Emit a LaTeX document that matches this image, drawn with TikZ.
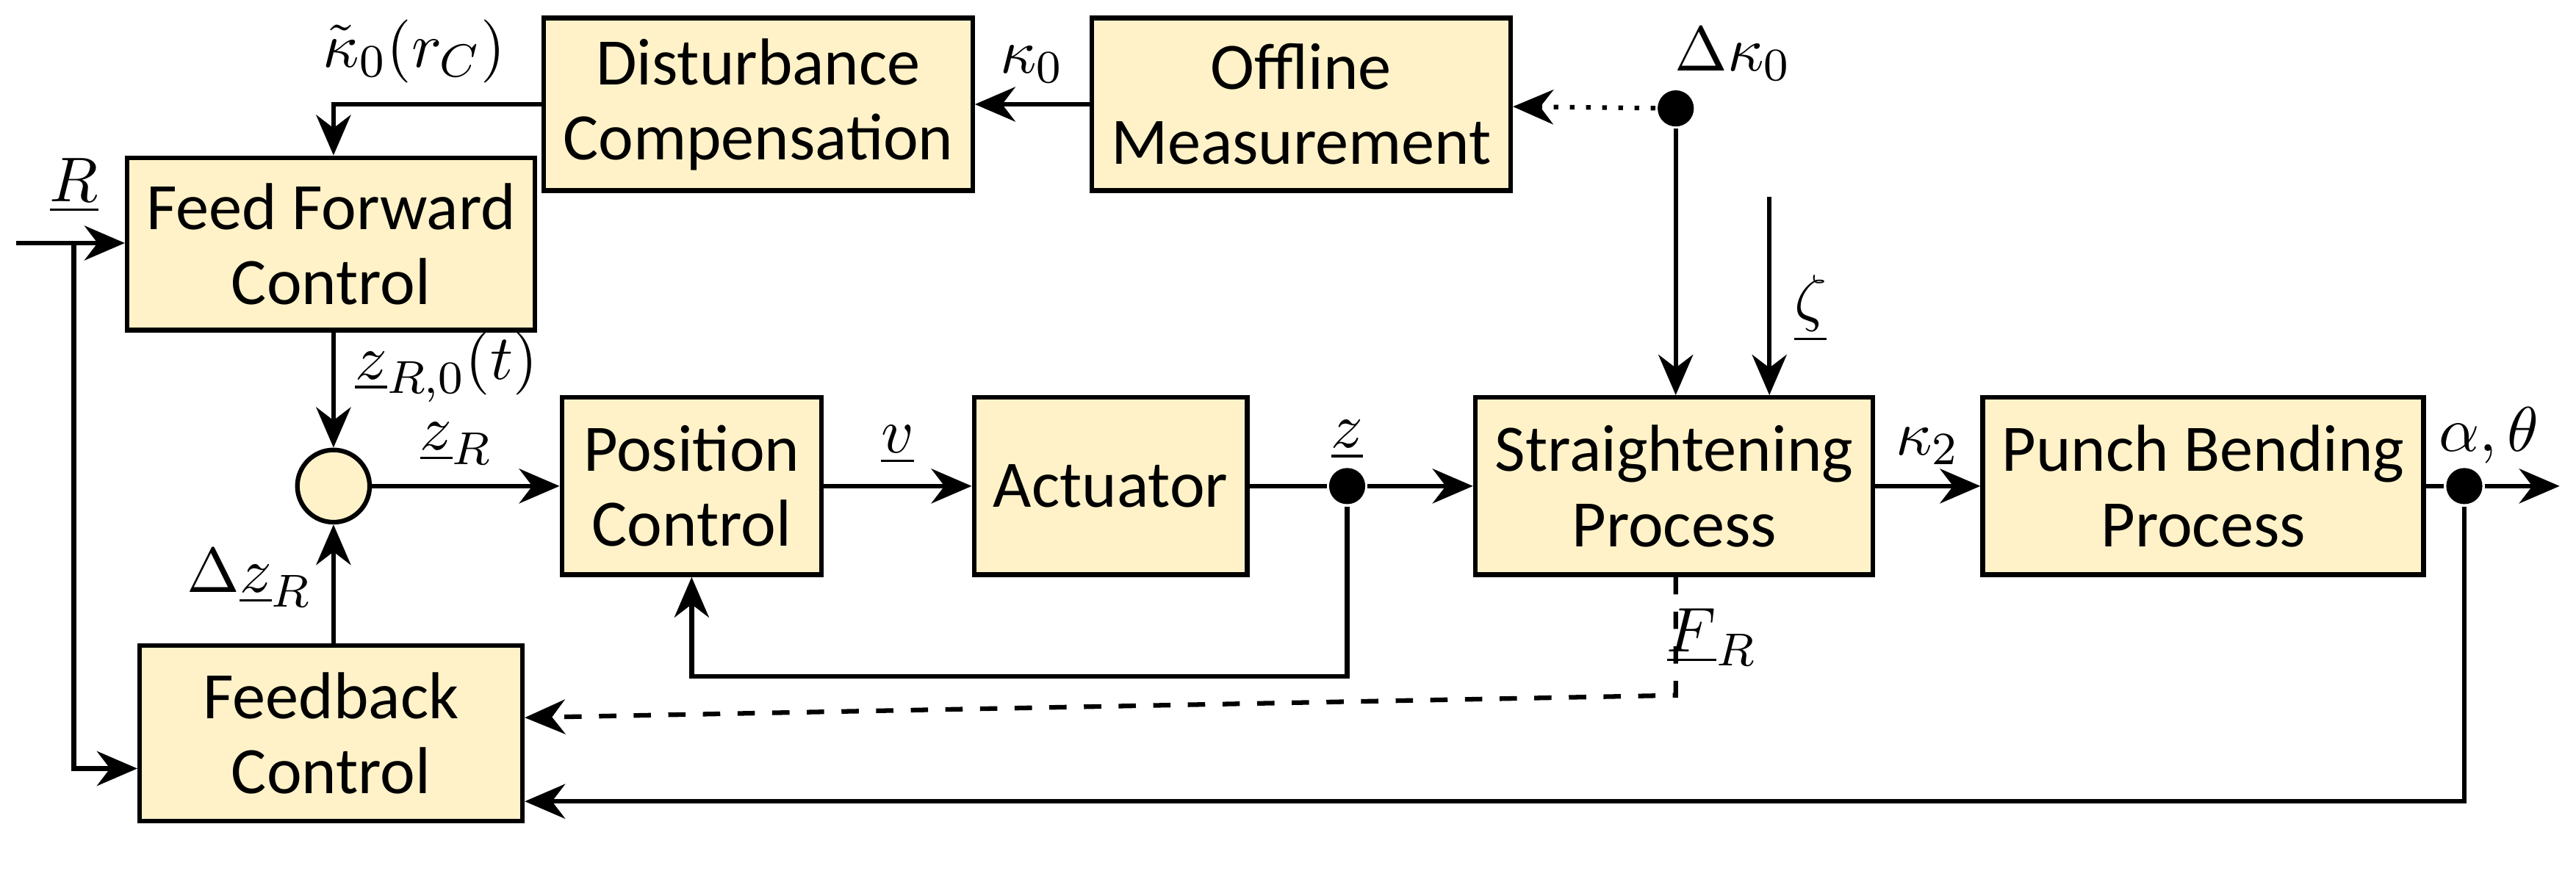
\documentclass[tikz,border=0pt]{standalone}
\usepackage{fontspec}
\setmainfont{Carlito}
\usetikzlibrary{arrows.meta,positioning}
\definecolor{boxfill}{RGB}{255,242,200}

\begin{document}
\begin{tikzpicture}[>={Stealth[length=7pt,width=6pt]}, thick,
   block/.style={rectangle, draw, fill=boxfill, align=center, font=\fontsize{11.5}{13}\selectfont, minimum height=1.05cm},
   dot/.style={circle, fill, inner sep=0pt, minimum size=0.22cm},
   lbl/.style={font=\fontsize{11}{13}\selectfont}]
   \useasboundingbox (0,0) rectangle (15.68,5.30);

   \node (dc) at (4.615,4.665) [block, minimum width=2.33cm] {Disturbance\\Compensation};
   \node (om) at (7.92,4.665) [block, minimum width=2.40cm] {Offline\\Measurement};
   \node (ff) at (2.015,3.815) [block, minimum width=2.33cm] {Feed Forward\\Control};
   \node (pc) at (4.21,2.34) [block, minimum width=1.58cm, minimum height=1.08cm] {Position\\Control};
   \node (act) at (6.76,2.34) [block, minimum width=1.60cm, minimum height=1.08cm] {Actuator};
   \node (sp) at (10.19,2.34) [block, minimum width=2.42cm, minimum height=1.08cm] {Straightening\\Process};
   \node (pb) at (13.41,2.34) [block, minimum width=2.42cm, minimum height=1.08cm] {Punch Bending\\Process};
   \node (fb) at (2.015,0.835) [block, minimum width=2.33cm, minimum height=1.07cm] {Feedback\\Control};
   \node (sum) at (2.03,2.34) [circle, draw, fill=boxfill, minimum size=0.44cm] {};

   \node (d1) at (10.20,4.64) [dot] {};
   \node (d2) at (8.20,2.34) [dot] {};
   \node (d3) at (15.00,2.34) [dot] {};
   \coordinate (out) at (15.58,2.34);
   \coordinate (rin) at (0.10,3.82);
   \coordinate (rsplit) at (0.45,3.82);
   \coordinate (zeta) at (10.77,4.10);

   % top row
   \draw[->, dotted] (d1) -- (om);
   \draw[->] (om) -- node[above, lbl]{$\kappa_0$} (dc);
   \draw[->] (dc.west) -| node[above, near start, lbl, xshift=-4pt]{$\tilde{\kappa}_0(r_C)$} (ff.north -| sum);
   \draw[->] (d1) -- (sp.north -| d1);
   \draw[->] (zeta) -- (sp.north -| zeta);

   % reference input
   \draw[->] (rin) -- (ff.west |- rin);
   \draw[->] (rsplit) |- (fb.west |- 0,0.62);

   % main path
   \draw[->] (ff.south -| sum) -- node[right, pos=0.3, lbl]{$\underline{z}_{R,0}(t)$} (sum);
   \draw[->] (fb.north -| sum) -- node[left, pos=0.55, lbl]{$\Delta\underline{z}_R$} (sum);
   \draw[->] (sum) -- node[above, lbl, pos=0.45]{$\underline{z}_R$} (pc);
   \draw[->] (pc) -- node[above, lbl]{$\underline{v}$} (act);
   \draw (act) -- (d2);
   \draw[->] (d2) -- (sp);
   \draw[->] (sp) -- node[above, lbl]{$\kappa_2$} (pb);
   \draw (pb) -- (d3);
   \draw[->] (d3) -- (out);

   % feedback loops
   \draw[->] (d2) -- ++(0,-1.16) -| (pc.south);
   \draw[->, dashed] (sp.south -| d1) -- ++(0,-0.72) -- (fb.east |- 0,0.93);
   \draw[->] (d3) |- (fb.east |- 0,0.42);

   % labels
   \node at (0.45,4.17) [lbl] {$\underline{R}$};
   \node at (10.55,4.97) [lbl] {$\Delta\kappa_0$};
   \node at (11.02,3.42) [lbl] {$\underline{\zeta}$};
   \node at (8.20,2.62) [lbl] {$\underline{z}$};
   \node at (15.15,2.65) [lbl] {$\alpha,\theta$};
   \node at (10.42,1.42) [lbl] {$\underline{F}_R$};
\end{tikzpicture}
\end{document}
